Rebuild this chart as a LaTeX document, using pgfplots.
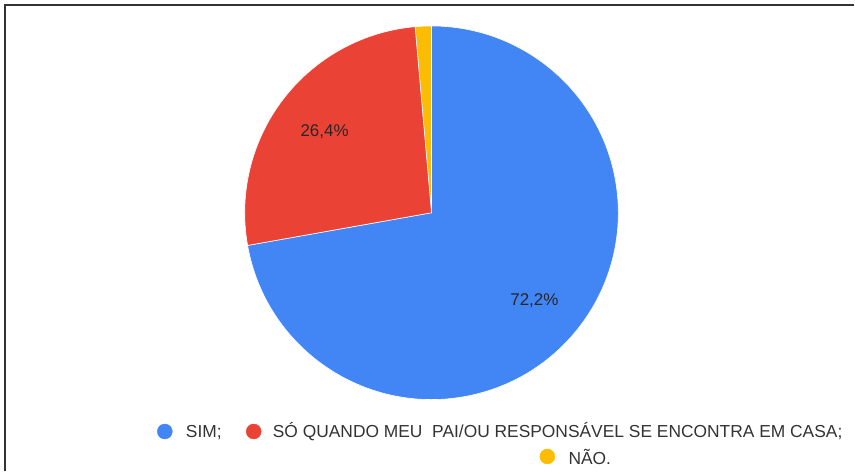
\documentclass[border=0pt]{standalone}
\usepackage{pgfplots}
\usepackage{pgfplotstable}
\pgfplotsset{compat=1.18}
\usepackage{fontspec}
\setmainfont{Liberation Sans}
\definecolor{gblue}{HTML}{4285F4}
\definecolor{gred}{HTML}{EA4335}
\definecolor{gyellow}{HTML}{FBBC04}
\definecolor{txt}{HTML}{333333}
\pgfplotstableread{
label value
SIM 72.2
SO 26.4
NAO 1.4
}\piedata
\begin{document}
\begin{tikzpicture}
\pgfplotstablegetelem{0}{value}\of\piedata \let\va\pgfplotsretval
\pgfplotstablegetelem{1}{value}\of\piedata \let\vb\pgfplotsretval
\pgfplotstablegetelem{2}{value}\of\piedata \let\vc\pgfplotsretval
\pgfmathsetmacro{\tot}{\va+\vb+\vc}
\pgfmathsetmacro{\k}{3.6*(100/\tot)}
\pgfmathsetmacro{\aStart}{90-\k*\va}
\pgfmathsetmacro{\cEnd}{90+\k*\vc}
\pgfmathsetmacro{\bEnd}{\cEnd+\k*\vb}
\begin{axis}[
  at={(0,0)}, anchor=south west,
  scale only axis, width=855pt, height=472pt,
  xmin=0, xmax=855, ymin=0, ymax=472,
  hide axis, clip=false,
]
\path (axis cs:0,0) rectangle (axis cs:855,472);
% pie sectors
\fill[gblue, draw=white, line width=0.6pt] (axis cs:432,259) -- ++(\aStart:187pt) arc[start angle=\aStart, end angle=90, radius=187pt] -- cycle;
\fill[gyellow, draw=white, line width=0.6pt] (axis cs:432,259) -- ++(90:187pt) arc[start angle=90, end angle=\cEnd, radius=187pt] -- cycle;
\fill[gred, draw=white, line width=0.6pt] (axis cs:432,259) -- ++(\cEnd:187pt) arc[start angle=\cEnd, end angle=\bEnd, radius=187pt] -- cycle;
% slice labels
\node[font=\fontsize{17}{20}\selectfont, text=black!85] at (axis cs:325,340) {26,4\%};
\node[font=\fontsize{17}{20}\selectfont, text=black!85] at (axis cs:535,171) {72,2\%};
% legend markers
\addplot[only marks, mark=*, mark size=7.5pt, color=gblue] coordinates {(165,40)};
\addplot[only marks, mark=*, mark size=7.5pt, color=gred] coordinates {(254,40)};
\addplot[only marks, mark=*, mark size=7.5pt, color=gyellow] coordinates {(548,15)};
% legend texts
\node[anchor=base west, inner sep=0pt, font=\fontsize{17.4}{20}\selectfont, text=txt] at (axis cs:186,34) {SIM;};
\node[anchor=base west, inner sep=0pt, font=\fontsize{17.4}{20}\selectfont, text=txt] at (axis cs:273,34) {SÓ QUANDO MEU\ \ PAI/OU RESPONSÁVEL SE ENCONTRA EM CASA;};
\node[anchor=base west, inner sep=0pt, font=\fontsize{17.4}{20}\selectfont, text=txt] at (axis cs:569,7) {NÃO.};
% frame
\draw[line width=2pt, color=black!80] (axis cs:5,0) -- (axis cs:5,467) -- (axis cs:855,467);
\end{axis}
\end{tikzpicture}
\end{document}
